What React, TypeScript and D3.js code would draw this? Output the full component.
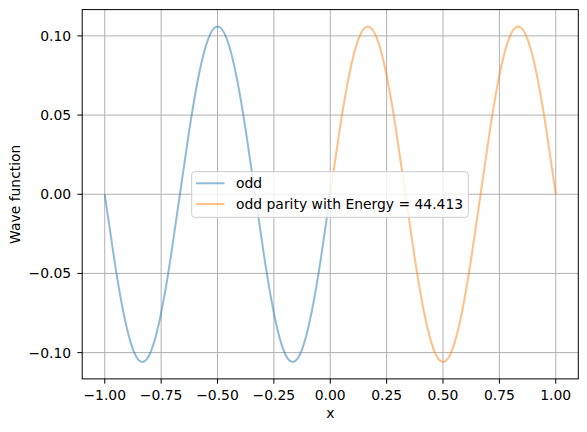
import React, { useRef, useEffect } from 'react';
import * as d3 from 'd3';

const xOdd = d3.range(0, 25).map(i => -1 + i / 24);
const yOdd = [
  0, -0.0406, -0.075, -0.098, -0.106, -0.098, -0.075, -0.0406,
  0, 0.0406, 0.075, 0.098, 0.106, 0.098, 0.075, 0.0406,
  0, -0.0406, -0.075, -0.098, -0.106, -0.098, -0.075, -0.0406, 0,
];
const xParity = d3.range(0, 25).map(i => i / 24);
const yParity = [
  0, 0.0406, 0.075, 0.098, 0.106, 0.098, 0.075, 0.0406,
  0, -0.0406, -0.075, -0.098, -0.106, -0.098, -0.075, -0.0406,
  0, 0.0406, 0.075, 0.098, 0.106, 0.098, 0.075, 0.0406, 0,
];
const xTicks = [-1, -0.75, -0.5, -0.25, 0, 0.25, 0.5, 0.75, 1];
const yTicks = [-0.1, -0.05, 0, 0.05, 0.1];
const seriesNames = ['odd', 'odd parity with Energy = 44.413'];
const seriesColors = ['#1f77b4', '#ff7f0e'];

const W = 587, H = 432;
const fmt = (v: number) => {
  const s = v.toFixed(2);
  return s.startsWith('-') ? '\u2212' + s.slice(1) : s;
};

const Chart = () => {
  const ref = useRef<SVGSVGElement>(null);

  useEffect(() => {
    const svg = d3.select(ref.current);
    svg.selectAll('*').remove();
    const font = 'DejaVu Sans, sans-serif';
    const fs = 13.9;

    const left = 82.2, right = 578.3, top = 9.6, bottom = 378.9;
    const x = d3.scaleLinear().domain([-1.1, 1.1]).range([left, right]);
    const y = d3.scaleLinear().domain([-0.1166, 0.1166]).range([bottom, top]);

    svg.append('rect').attr('width', W).attr('height', H).attr('fill', '#fff');

    // grid
    const g = svg.append('g');
    xTicks.forEach(t => {
      g.append('line').attr('x1', x(t)).attr('x2', x(t)).attr('y1', top).attr('y2', bottom)
        .attr('stroke', '#b0b0b0').attr('stroke-width', 1);
    });
    yTicks.forEach(t => {
      g.append('line').attr('x1', left).attr('x2', right).attr('y1', y(t)).attr('y2', y(t))
        .attr('stroke', '#b0b0b0').attr('stroke-width', 1);
    });

    const line = d3.line<[number, number]>()
      .x(d => x(d[0])).y(d => y(d[1]))
      .curve(d3.curveNatural);

    const series: [number, number][][] = [
      xOdd.map((v, i) => [v, yOdd[i]]),
      xParity.map((v, i) => [v, yParity[i]]),
    ];
    series.forEach((s, i) => {
      svg.append('path').attr('d', line(s)!).attr('fill', 'none')
        .attr('stroke', seriesColors[i]).attr('stroke-opacity', 0.5)
        .attr('stroke-width', 2);
    });

    // spines
    svg.append('rect').attr('x', left).attr('y', top)
      .attr('width', right - left).attr('height', bottom - top)
      .attr('fill', 'none').attr('stroke', '#000').attr('stroke-width', 1);

    // ticks
    xTicks.forEach(t => {
      svg.append('line').attr('x1', x(t)).attr('x2', x(t)).attr('y1', bottom).attr('y2', bottom + 4.8)
        .attr('stroke', '#000').attr('stroke-width', 1);
      svg.append('text').attr('x', x(t)).attr('y', bottom + 21)
        .attr('text-anchor', 'middle').attr('font-family', font).attr('font-size', fs)
        .text(fmt(t));
    });
    yTicks.forEach(t => {
      svg.append('line').attr('x1', left - 4.8).attr('x2', left).attr('y1', y(t)).attr('y2', y(t))
        .attr('stroke', '#000').attr('stroke-width', 1);
      svg.append('text').attr('x', left - 11).attr('y', y(t))
        .attr('dy', '0.36em')
        .attr('text-anchor', 'end').attr('font-family', font).attr('font-size', fs)
        .text(fmt(t));
    });

    svg.append('text').attr('x', (left + right) / 2).attr('y', 418.3)
      .attr('text-anchor', 'middle').attr('font-family', font).attr('font-size', fs)
      .text('x');
    svg.append('text')
      .attr('transform', `translate(19.5,${(top + bottom) / 2}) rotate(-90)`)
      .attr('text-anchor', 'middle').attr('font-family', font).attr('font-size', fs)
      .text('Wave function');

    // legend
    const lg = svg.append('g');
    lg.append('rect').attr('x', 191.7).attr('y', 171.7).attr('width', 276.6).attr('height', 45.6)
      .attr('rx', 3).attr('fill', '#fff').attr('fill-opacity', 0.8)
      .attr('stroke', '#cccccc').attr('stroke-width', 1);
    seriesNames.forEach((name, i) => {
      const cy = 183.3 + i * 20.8;
      lg.append('line').attr('x1', 196).attr('x2', 224.5).attr('y1', cy).attr('y2', cy)
        .attr('stroke', seriesColors[i]).attr('stroke-opacity', 0.5).attr('stroke-width', 2);
      lg.append('text').attr('x', 236).attr('y', cy).attr('dy', '0.36em')
        .attr('font-family', font).attr('font-size', fs).text(name);
    });
  }, []);

  return <svg ref={ref} width={W} height={H} style={{ display: 'block' }} />;
};

export default function App() {
  return (
    <div style={{ position: 'absolute', left: 0, top: 0 }}>
      <Chart />
    </div>
  );
}
